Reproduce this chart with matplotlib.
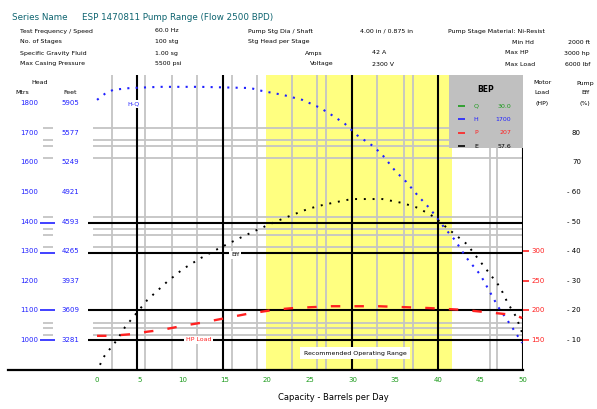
import matplotlib.pyplot as plt
from matplotlib.patches import Rectangle

# ---- data ----
flow_ticks = [0, 5, 10, 15, 20, 25, 30, 35, 40, 45, 50]

# head curve (flow x100 BPD, head in metres)
head_flow = [0.0, 0.9, 1.9, 3.9, 7.4, 12.1, 18.0, 19.4, 21.8, 24.1, 26.2, 27.7, 29.1,
             30.5, 32.4, 33.5, 35.0, 36.3, 37.7, 39.1, 40.8, 42.0, 43.3, 45.0, 47.1,
             48.7, 49.9]
head_m = [1811, 1831, 1845, 1851, 1855, 1855, 1851, 1841, 1828, 1811, 1784, 1757, 1730,
          1692, 1655, 1625, 1571, 1534, 1486, 1443, 1378, 1338, 1280, 1220, 1111,
          1044, 990]

# pump efficiency (%)
eff_flow = [0.35, 0.7, 1.2, 1.9, 2.5, 3.3, 5.9, 8.2, 10.1, 12.2, 14.4, 16.8, 18.5, 20.9,
            22.9, 24.8, 26.5, 28.8, 29.9, 33.5, 35.8, 37.7, 39.6, 41.1, 43.4, 45.3,
            47.3, 48.2, 49.2, 49.9]
eff_pct = [1.6, 3.9, 5.9, 8.3, 10.7, 14.4, 23.5, 29.6, 34.0, 37.7, 41.1, 44.5, 46.8, 49.9,
           52.2, 54.3, 55.6, 57.0, 57.6, 57.6, 56.3, 54.6, 51.5, 47.8, 42.4, 35.3,
           27.9, 22.5, 17.8, 12.4]

# motor load (HP)
hp_flow = [0.0, 1.6, 4.2, 5.9, 7.6, 10.1, 12.6, 15.1, 17.6, 19.0, 20.8, 23.1, 27.6, 33.0,
           38.8, 42.8, 46.4, 49.1, 49.9]
hp_val = [157, 157, 160, 164, 167, 174, 180, 187, 194, 197, 201, 204, 207, 207,
          204, 201, 196, 192, 187]

head_rows_m = [1800, 1700, 1600, 1500, 1400, 1300, 1200, 1100, 1000]
eff_rows = [80, 70, 60, 50, 40, 30, 20, 10]
hp_rows = [300, 250, 200, 150]

# reference lines
black_vlines = [4.7, 14.8, 29.9, 40.0]
gray_vlines = [1.8, 5.6, 8.8, 11.7, 15.9, 18.8, 22.9, 25.8, 26.9, 32.9, 36.0, 37.1, 46.1, 47.0]
black_hlines = [1395, 1294, 1101, 1000]
gray_hlines = [1716, 1676, 1655, 1615, 1415, 1375, 1355, 1314, 1057, 1041, 1017]
op_range = (19.8, 41.7)

bep_rows = [("Q", "30.0", "#1a9a1a"), ("H", "1700", "#2020ff"),
            ("P", "207", "#ff2020"), ("E", "57.6", "black")]

hdr_rows = [
    [(20, "Test Frequency / Speed"), (155, "60.0 Hz"), (248, "Pump Stg Dia / Shaft"),
     (360, "4.00 in / 0.875 in"), (448, "Pump Stage Material: Ni-Resist")],
    [(20, "No. of Stages"), (155, "100 stg"), (248, "Stg Head per Stage"),
     (512, "Min Hd"), (590, "2000 ft")],
    [(20, "Specific Gravity Fluid"), (155, "1.00 sg"), (305, "Amps"),
     (372, "42 A"), (505, "Max HP"), (590, "3000 hp")],
    [(20, "Max Casing Pressure"), (155, "5500 psi"), (310, "Voltage"),
     (372, "2300 V"), (505, "Max Load"), (590, "6000 lbf")],
]

W, H = 597, 409
BLUE = "#2020ff"
RED = "#ff2020"
GREEN = "#1a9a1a"
GRAY = "#c4c4c4"

fig = plt.figure(figsize=(W / 100, H / 100), dpi=100)
fig.patch.set_facecolor("white")


def fx(px):
    return px / W


def fy(py):
    return 1 - py / H


ax = fig.add_axes([fx(8), fy(370), fx(523) - fx(8), fy(75) - fy(370)])
ax.set_xlim(-10.45, 50)
ax.set_ylim(898.6, 1895)
ax_e = ax.twinx()
ax_e.set_ylim(-0.14, 99.5)
ax_p = ax.twinx()
ax_p.set_ylim(99.3, 597.5)

for a in (ax, ax_e, ax_p):
    for s in ("top", "left", "right"):
        a.spines[s].set_visible(False)
    a.set_yticks([])
ax.spines["bottom"].set_linewidth(1.6)
ax.spines["bottom"].set_color("black")
ax_e.spines["bottom"].set_visible(False)
ax_p.spines["bottom"].set_visible(False)

ax.set_xticks(flow_ticks)
ax.set_xticklabels([str(t) for t in flow_ticks], color=GREEN, fontsize=5)
ax.tick_params(axis="x", length=0, pad=5)

# operating range + grid of reference lines
ax.axvspan(*op_range, color="#ffff80", zorder=0, lw=0)
for x in gray_vlines:
    ax.axvline(x, color=GRAY, lw=1.3, zorder=1)
for y in gray_hlines:
    ax.hlines(y, -0.5, 50, color=GRAY, lw=1.3, zorder=1)
    ax.hlines(y, -6.3, -5.2, color=GRAY, lw=1.3, zorder=1)
for x in black_vlines + [50]:
    ax.axvline(x, color="black", lw=1.5, zorder=2)
for y in black_hlines:
    ax.hlines(y, -1.06, 50, color="black", lw=1.5, zorder=2)
    ax.hlines(y, -6.7, -4.9, color=BLUE, lw=1.2, zorder=2)

# curves
ax.plot(head_flow, head_m, color=BLUE, lw=1.5, ls=(0, (1, 3)), zorder=4)
ax_e.plot(eff_flow, eff_pct, color="black", lw=1.4, ls=(0, (1, 3.5)), zorder=4)
ax_p.plot(hp_flow, hp_val, color=RED, lw=1.7, ls=(0, (4, 6)), zorder=4)

# BEP box
ax.add_patch(Rectangle((41.3, 1649), 8.7, 1895 - 1649, facecolor="#c0c0c0",
                       edgecolor="none", zorder=5))
ax.text(45.6, 1845, "BEP", fontsize=5.5, fontweight="bold", ha="center", va="center", zorder=6)
for i, (k, v, c) in enumerate(bep_rows):
    y = 1790 - i * 45
    ax.hlines(y, 42.4, 43.2, color=c, lw=1.2, zorder=6)
    ax.text(44.5, y, k, color=c, fontsize=4.5, ha="center", va="center", zorder=6)
    ax.text(48.6, y, v, color=c, fontsize=4.5, ha="right", va="center", zorder=6)

# small labels on the chart
wb = dict(facecolor="white", edgecolor="none", pad=1.2)
ax.text(4.3, 1797, "H-Q", color=BLUE, fontsize=4.5, ha="center", va="center", bbox=wb, zorder=6)
ax.text(16.2, 1288, "Eff", color="black", fontsize=4.5, ha="center", va="center", bbox=wb, zorder=6)
ax.text(11.9, 1000, "HP Load", color=RED, fontsize=4.5, ha="center", va="center", bbox=wb, zorder=6)
ax.text(30.3, 956, "Recommended Operating Range", color="black", fontsize=4.5,
        ha="center", va="center", bbox=dict(facecolor="white", edgecolor="none", pad=2.5), zorder=6)

# left head scale (metres / feet)
for m in head_rows_m:
    ax.text(-6.9, m, str(m), color=BLUE, fontsize=5, ha="right", va="center")
    ax.text(-2.1, m, f"{m * 3.2808:.0f}", color=BLUE, fontsize=5, ha="right", va="center")

# right scales: motor load (red) and efficiency (black)
for hp in hp_rows:
    ax_p.hlines(hp, 50, 50.7, color=RED, lw=1.2, clip_on=False)
    ax_p.text(51.0, hp, str(hp), color=RED, fontsize=5, ha="left", va="center")
for e in eff_rows:
    lbl = str(e) if e >= 70 else f"- {e}"
    ax_e.text(56.8, e, lbl, color="black", fontsize=5, ha="right", va="center")

# headers
fig.text(fx(40), fy(83), "Head", fontsize=4.5, ha="center", va="center")
fig.text(fx(22), fy(93), "Mtrs", fontsize=4.5, ha="center", va="center")
fig.text(fx(70), fy(93), "Feet", fontsize=4.5, ha="center", va="center")
for i, t in enumerate(["Motor", "Load", "(HP)"]):
    fig.text(fx(542), fy(83 + 10 * i), t, fontsize=4.5, ha="center", va="center")
for i, t in enumerate(["Pump", "Eff", "(%)"]):
    fig.text(fx(585), fy(83 + 10 * i), t, fontsize=4.5, ha="center", va="center")

fig.text(fx(12), fy(17), "Series Name", color="#0e6470", fontsize=6.3, va="center")
fig.text(fx(82), fy(17), "ESP 1470811 Pump Range (Flow 2500 BPD)", color="#0e6470",
         fontsize=6.3, va="center")
for r, row in enumerate(hdr_rows):
    for px, t in row:
        fig.text(fx(px), fy(31 + 11 * r), t, fontsize=4.5, va="center",
                 ha="right" if px == 590 else "left")

fig.text(fx(333), fy(397), "Capacity - Barrels per Day", fontsize=6, ha="center", va="center")

fig.savefig("out.png", dpi=100)
